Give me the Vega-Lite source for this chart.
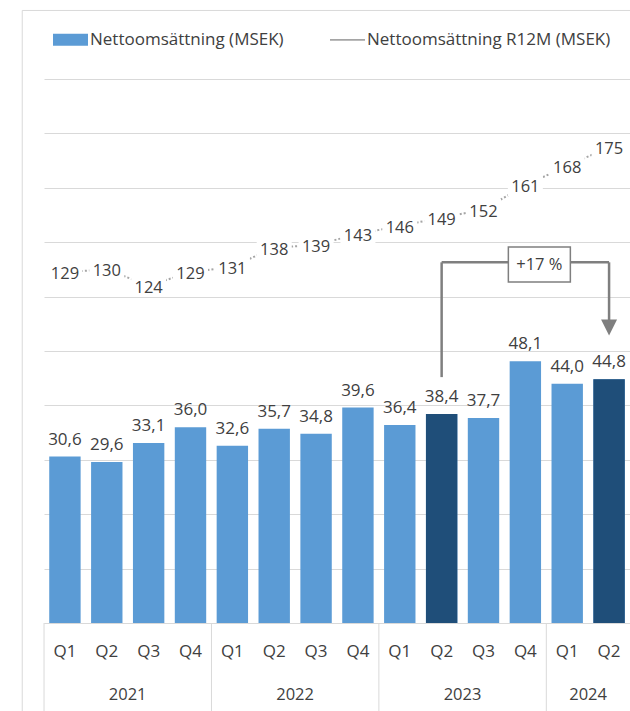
{
  "$schema": "https://vega.github.io/schema/vega-lite/v6.json",
  "width": 586,
  "height": 544,
  "autosize": {"type": "none"},
  "padding": {"left": 44, "top": 79, "right": 0, "bottom": 88},
  "background": "white",
  "config": {
    "view": {"stroke": null},
    "font": "Open Sans",
    "locale": {"number": {"decimal": ",", "thousands": " ", "grouping": [3], "currency": ["", " kr"]}},
    "legend": {
      "orient": "none",
      "legendX": 9,
      "legendY": -57,
      "direction": "horizontal",
      "title": null,
      "labelFont": "Open Sans",
      "labelFontSize": 17,
      "labelColor": "#404040",
      "labelOffset": 2,
      "labelLimit": 0,
      "columnPadding": 46,
      "symbolSize": 1225,
      "symbolStrokeWidth": 0,
      "symbolOpacity": 1
    }
  },
  "data": {
    "values": [
      {"q": "2021 Q1", "year": "2021", "quarter": "Q1", "sales": 30.6, "r12": 129},
      {"q": "2021 Q2", "year": "2021", "quarter": "Q2", "sales": 29.6, "r12": 130},
      {"q": "2021 Q3", "year": "2021", "quarter": "Q3", "sales": 33.1, "r12": 124},
      {"q": "2021 Q4", "year": "2021", "quarter": "Q4", "sales": 36.0, "r12": 129},
      {"q": "2022 Q1", "year": "2022", "quarter": "Q1", "sales": 32.6, "r12": 131},
      {"q": "2022 Q2", "year": "2022", "quarter": "Q2", "sales": 35.7, "r12": 138},
      {"q": "2022 Q3", "year": "2022", "quarter": "Q3", "sales": 34.8, "r12": 139},
      {"q": "2022 Q4", "year": "2022", "quarter": "Q4", "sales": 39.6, "r12": 143},
      {"q": "2023 Q1", "year": "2023", "quarter": "Q1", "sales": 36.4, "r12": 146},
      {"q": "2023 Q2", "year": "2023", "quarter": "Q2", "sales": 38.4, "r12": 149},
      {"q": "2023 Q3", "year": "2023", "quarter": "Q3", "sales": 37.7, "r12": 152},
      {"q": "2023 Q4", "year": "2023", "quarter": "Q4", "sales": 48.1, "r12": 161},
      {"q": "2024 Q1", "year": "2024", "quarter": "Q1", "sales": 44.0, "r12": 168},
      {"q": "2024 Q2", "year": "2024", "quarter": "Q2", "sales": 44.8, "r12": 175}
    ]
  },
  "layer": [
    {
      "layer": [
        {
          "mark": {"type": "bar"},
          "encoding": {
            "x": {
              "field": "q", "type": "nominal", "sort": null, "title": null,
              "scale": {"paddingInner": 0.25, "paddingOuter": 0.125},
              "axis": {"title": null, "labelExpr": "split(datum.value, ' ')[1]", "ticks": false, "domainColor": "#D9D9D9", "labelFontSize": 17, "labelColor": "#404040", "labelPadding": 20, "labelAngle": 0, "labelFont": "Open Sans", "grid": false}
            },
            "y": {
              "field": "sales", "type": "quantitative", "title": null,
              "scale": {"domain": [0, 100]},
              "axis": {"title": null, "values": [0, 10, 20, 30, 40, 50, 60, 70, 80, 90, 100], "labels": false, "ticks": false, "domain": false, "grid": true, "gridColor": "#D9D9D9", "gridWidth": 1}
            },
            "color": {
              "datum": "Nettoomsättning (MSEK)",
              "scale": {"domain": ["Nettoomsättning (MSEK)", "Nettoomsättning R12M (MSEK)"], "range": ["#5B9BD5", "#A5A5A5"]},
              "legend": {
                "encode": {
                  "symbols": {
                    "update": {
                      "shape": {"signal": "datum.value === 'Nettoomsättning (MSEK)' ? 'M-1,-0.34L1,-0.34L1,0.34L-1,0.34Z' : 'M-1,-0.05L1,-0.05L1,0.05L-1,0.05Z'"},
                      "fill": {"signal": "datum.value === 'Nettoomsättning (MSEK)' ? '#5B9BD5' : '#A5A5A5'"},
                      "strokeWidth": {"value": 0},
                      "opacity": {"value": 1}
                    }
                  }
                }
              }
            }
          }
        },
        {
          "transform": [{"filter": {"field": "q", "oneOf": ["2023 Q2", "2024 Q2"]}}],
          "mark": {"type": "bar", "color": "#1F4E79"},
          "encoding": {
            "x": {"field": "q", "type": "nominal", "sort": null, "title": null},
            "y": {"field": "sales", "type": "quantitative", "scale": {"domain": [0, 100]}, "title": null}
          }
        },
        {
          "mark": {"type": "text", "baseline": "alphabetic", "dy": -12, "fontSize": 17, "color": "#404040", "font": "Open Sans"},
          "encoding": {
            "x": {"field": "q", "type": "nominal", "sort": null, "title": null},
            "y": {"field": "sales", "type": "quantitative", "scale": {"domain": [0, 100]}, "title": null},
            "text": {"field": "sales", "type": "quantitative", "format": ".1f"}
          }
        },
        {
          "transform": [{"filter": "datum.quarter === 'Q1'"}],
          "mark": {"type": "rule", "color": "#D9D9D9", "strokeWidth": 1, "xOffset": -5.2},
          "encoding": {
            "x": {"field": "q", "type": "nominal", "sort": null, "bandPosition": 0, "title": null},
            "y": {"datum": 0, "scale": {"domain": [0, 100]}, "title": null},
            "y2": {"datum": -16.5}
          }
        },
        {
          "transform": [{"filter": "(datum.quarter === 'Q2' && datum.year !== '2024') || datum.q === '2024 Q1'"}],
          "mark": {"type": "text", "baseline": "middle", "fontSize": 16.5, "color": "#404040", "xOffset": 20.9, "font": "Open Sans"},
          "encoding": {
            "x": {"field": "q", "type": "nominal", "sort": null, "title": null},
            "y": {"datum": -13.2, "scale": {"domain": [0, 100]}, "title": null},
            "text": {"field": "year"}
          }
        },
        {
          "data": {"values": [{}]},
          "mark": {"type": "rule", "color": "#D9D9D9", "strokeWidth": 1, "xOffset": -27},
          "encoding": {
            "x": {"datum": "2021 Q1", "bandPosition": 0, "title": null},
            "y": {"datum": 112.6, "scale": {"domain": [0, 100]}, "title": null},
            "y2": {"datum": -16.5}
          }
        },
        {
          "data": {"values": [{}]},
          "mark": {"type": "rule", "color": "#D9D9D9", "strokeWidth": 1, "xOffset": -27, "x2Offset": 20},
          "encoding": {
            "x": {"datum": "2021 Q1", "bandPosition": 0, "title": null},
            "x2": {"datum": "2024 Q2", "bandPosition": 1},
            "y": {"datum": 112.6, "scale": {"domain": [0, 100]}, "title": null}
          }
        },
        {
          "data": {"values": [{}]},
          "mark": {"type": "rule", "color": "#7F7F7F", "strokeWidth": 2.5},
          "encoding": {
            "x": {"datum": "2023 Q2", "bandPosition": 0.5, "title": null},
            "y": {"datum": 45.2, "scale": {"domain": [0, 100]}, "title": null},
            "y2": {"datum": 66.3}
          }
        },
        {
          "data": {"values": [{}]},
          "mark": {"type": "rule", "color": "#7F7F7F", "strokeWidth": 2.5},
          "encoding": {
            "x": {"datum": "2023 Q2", "bandPosition": 0.5, "title": null},
            "x2": {"datum": "2024 Q2", "bandPosition": 0.5},
            "y": {"datum": 66.3, "scale": {"domain": [0, 100]}, "title": null}
          }
        },
        {
          "data": {"values": [{}]},
          "mark": {"type": "rule", "color": "#7F7F7F", "strokeWidth": 2.5},
          "encoding": {
            "x": {"datum": "2024 Q2", "bandPosition": 0.5, "title": null},
            "y": {"datum": 66.3, "scale": {"domain": [0, 100]}, "title": null},
            "y2": {"datum": 55.5}
          }
        },
        {
          "data": {"values": [{}]},
          "mark": {"type": "point", "shape": "M-1,-1L1,-1L0,1Z", "filled": true, "color": "#7F7F7F", "opacity": 1, "size": 256},
          "encoding": {
            "x": {"datum": "2024 Q2", "title": null},
            "y": {"datum": 54.3, "scale": {"domain": [0, 100]}, "title": null}
          }
        },
        {
          "data": {"values": [{}]},
          "mark": {"type": "point", "shape": "M-1,-0.565L1,-0.565L1,0.565L-1,0.565Z", "filled": true, "fill": "white", "stroke": "#7F7F7F", "strokeWidth": 1.5, "opacity": 1, "size": 3844, "xOffset": 14},
          "encoding": {
            "x": {"datum": "2023 Q4", "title": null},
            "y": {"datum": 65.9, "scale": {"domain": [0, 100]}, "title": null}
          }
        },
        {
          "data": {"values": [{}]},
          "mark": {"type": "text", "text": "+17 %", "baseline": "middle", "fontSize": 16.5, "color": "#404040", "xOffset": 14, "font": "Open Sans"},
          "encoding": {
            "x": {"datum": "2023 Q4", "title": null},
            "y": {"datum": 65.9, "scale": {"domain": [0, 100]}, "title": null}
          }
        }
      ]
    },
    {
      "layer": [
        {
          "mark": {"type": "line", "strokeWidth": 2, "strokeDash": [2, 2]},
          "encoding": {
            "x": {"field": "q", "type": "nominal", "sort": null, "title": null},
            "y": {"field": "r12", "type": "quantitative", "scale": {"domain": [0, 200]}, "axis": null},
            "color": {"datum": "Nettoomsättning R12M (MSEK)"}
          }
        },
        {
          "mark": {"type": "point", "shape": "M-1,-0.62L1,-0.62L1,0.62L-1,0.62Z", "filled": true, "fill": "white", "opacity": 1, "size": 1225},
          "encoding": {
            "x": {"field": "q", "type": "nominal", "sort": null, "title": null},
            "y": {"field": "r12", "type": "quantitative", "scale": {"domain": [0, 200]}, "axis": null}
          }
        },
        {
          "mark": {"type": "text", "baseline": "middle", "dy": 2, "fontSize": 16.5, "color": "#404040", "font": "Open Sans"},
          "encoding": {
            "x": {"field": "q", "type": "nominal", "sort": null, "title": null},
            "y": {"field": "r12", "type": "quantitative", "scale": {"domain": [0, 200]}, "axis": null},
            "text": {"field": "r12", "type": "quantitative", "format": "d"}
          }
        }
      ]
    }
  ],
  "resolve": {"scale": {"y": "independent"}}
}
